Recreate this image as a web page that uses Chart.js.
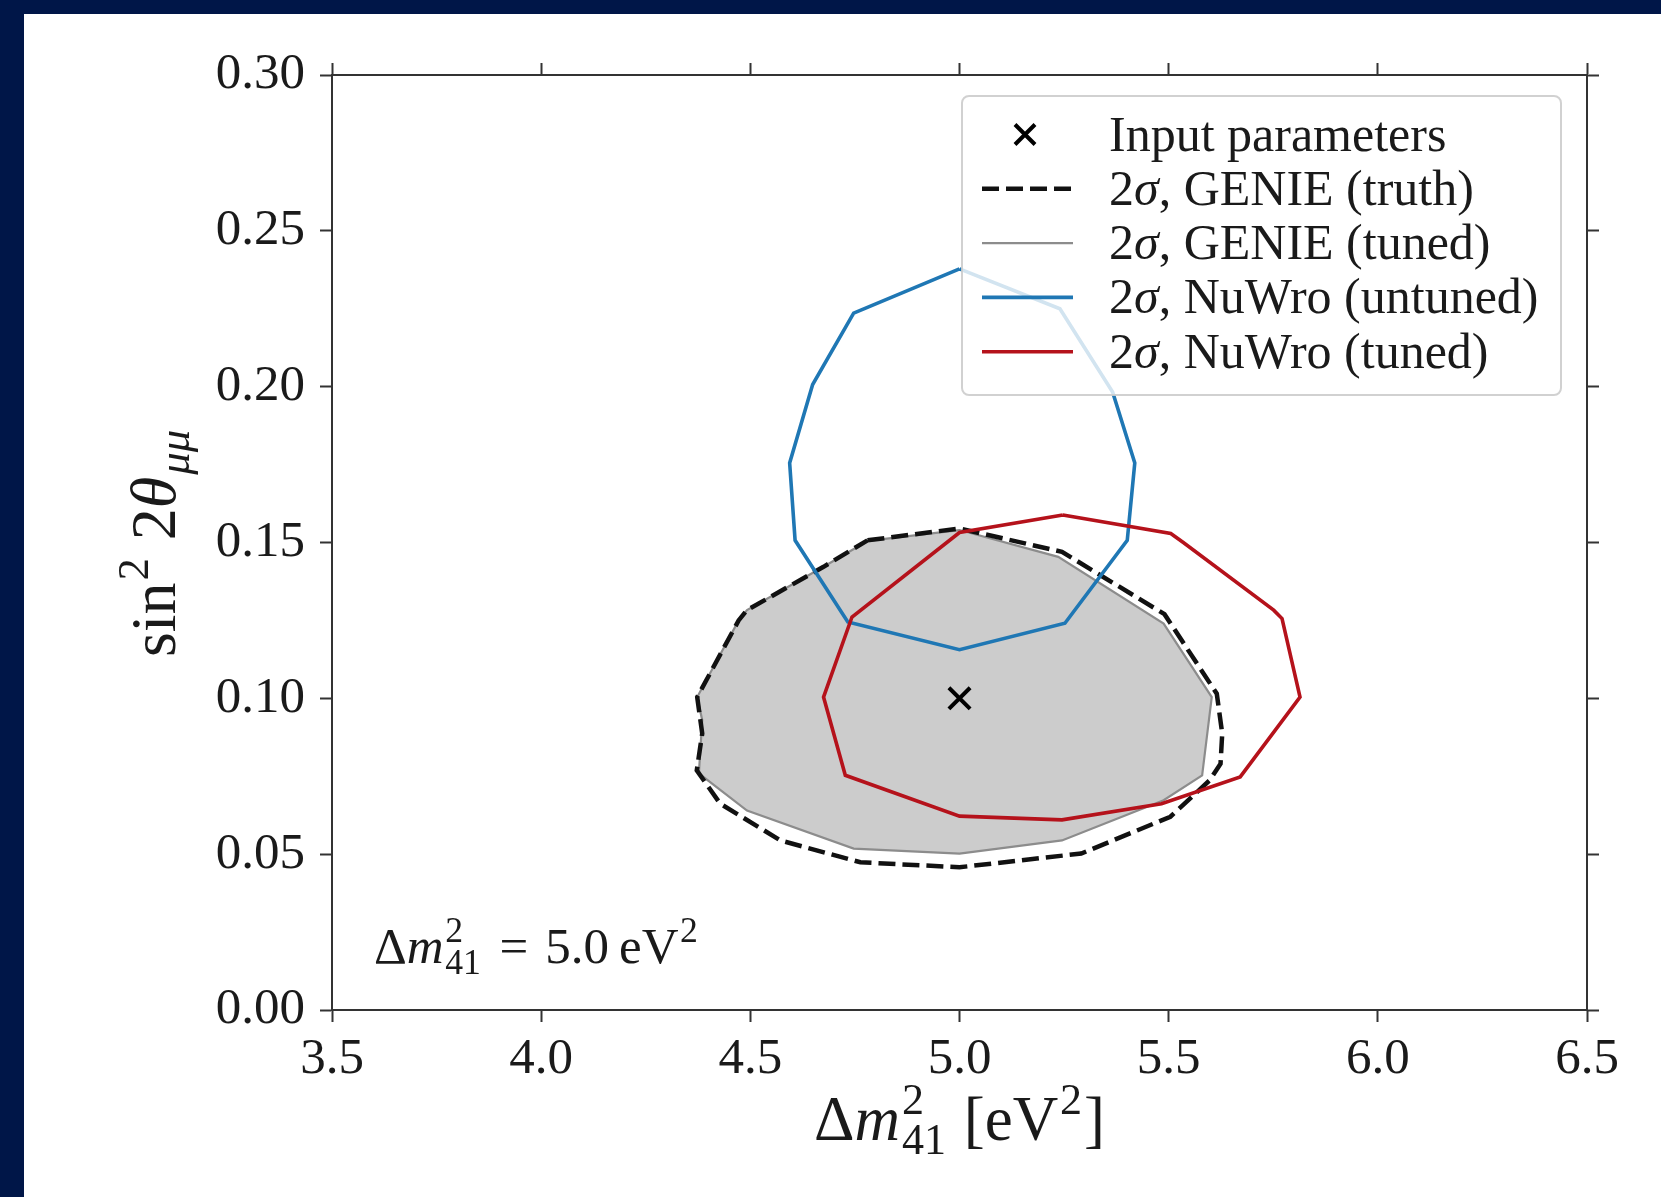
<!DOCTYPE html>
<html>
<head>
<meta charset="utf-8">
<title>Sterile oscillation contours</title>
<script src="https://cdn.jsdelivr.net/npm/chart.js@4.4.1/dist/chart.umd.min.js"></script>
<style>
    html, body { margin: 0; padding: 0; background: #001648; overflow: hidden; }
    .panel { position: absolute; left: 24px; top: 14px; right: 0; bottom: 0; background: #ffffff; }
    canvas { display: block; }
</style>
</head>
<body>
<div class="panel"><canvas id="contourChart" width="1637" height="1183"></canvas></div>
<script>
// axis ticks
const xTicks = [3.5, 4.0, 4.5, 5.0, 5.5, 6.0, 6.5];
const yTicks = [0.0, 0.05, 0.1, 0.15, 0.2, 0.25, 0.3];

// injected point
const inputX = [5.0];
const inputY = [0.1];

// 2 sigma contours (closed polygons)
const genieTruthX = [4.78, 5.0, 5.245, 5.49, 5.615, 5.628, 5.624, 5.598, 5.504, 5.291, 5.0, 4.763, 4.572, 4.428, 4.372, 4.385, 4.373, 4.472, 4.492, 4.675, 4.78];
const genieTruthY = [0.1507, 0.1545, 0.147, 0.127, 0.1015, 0.0887, 0.079, 0.0737, 0.062, 0.0502, 0.0458, 0.0474, 0.0544, 0.0662, 0.0769, 0.0887, 0.1004, 0.125, 0.1283, 0.1422, 0.1507];

const genieTunedX = [4.78, 5.0, 5.236, 5.488, 5.603, 5.58, 5.488, 5.245, 5.0, 4.747, 4.492, 4.377, 4.385, 4.373, 4.472, 4.492, 4.675, 4.78];
const genieTunedY = [0.1505, 0.154, 0.1454, 0.124, 0.1004, 0.0753, 0.0673, 0.0544, 0.0502, 0.0518, 0.064, 0.0759, 0.093, 0.1004, 0.125, 0.1283, 0.1422, 0.1505];

const nuwroUntunedX = [5.0, 5.24, 5.366, 5.419, 5.401, 5.252, 5.0, 4.733, 4.607, 4.594, 4.649, 4.747, 5.0];
const nuwroUntunedY = [0.2378, 0.225, 0.1983, 0.1755, 0.1507, 0.1241, 0.1156, 0.1245, 0.1507, 0.1755, 0.2007, 0.2236, 0.2378];

const nuwroTunedX = [5.247, 5.505, 5.535, 5.751, 5.771, 5.814, 5.671, 5.483, 5.245, 5.0, 4.727, 4.675, 4.743, 5.0, 5.247];
const nuwroTunedY = [0.1588, 0.1529, 0.15, 0.1283, 0.1256, 0.1004, 0.0748, 0.0662, 0.061, 0.0622, 0.0753, 0.1004, 0.1261, 0.1532, 0.1588];

const legendLabels = [
    "Input parameters",
    "2σ, GENIE (truth)",
    "2σ, GENIE (tuned)",
    "2σ, NuWro (untuned)",
    "2σ, NuWro (tuned)",
];

const FONT = "\"Liberation Serif\", \"Times New Roman\", serif";

const toPoints = (xs, ys) => xs.map((x, i) => ({ x: x, y: ys[i] }));

// draws a small run of math-like text: {t, it} normal text, {sup, sub} stacked scripts
const drawMath = (ctx, runs, x, y, size, align) => {
    const small = size * 0.7;
    const setFont = (s, it) => {
        ctx.font = (it ? "italic " : "") + s + "px " + FONT;
    };
    const widthOf = (r) => {
        if (r.t !== undefined) {
            setFont(size, r.it);
            return ctx.measureText(r.t).width;
        }
        setFont(small, r.it);
        const a = r.sup ? ctx.measureText(r.sup).width : 0;
        const b = r.sub ? ctx.measureText(r.sub).width : 0;
        return Math.max(a, b) + size * 0.06;
    };
    const total = runs.reduce((acc, r) => acc + widthOf(r), 0);
    let cx = align === "center" ? x - total / 2 : x;
    ctx.textAlign = "left";
    ctx.textBaseline = "alphabetic";
    runs.forEach((r) => {
        const w = widthOf(r);
        if (r.t !== undefined) {
            setFont(size, r.it);
            ctx.fillText(r.t, cx, y);
        } else {
            setFont(small, r.it);
            if (r.sup) ctx.fillText(r.sup, cx + size * 0.03, y - size * 0.42);
            if (r.sub) ctx.fillText(r.sub, cx + size * 0.03, y + size * 0.22);
        }
        cx += w;
    });
};

// greek letters in italics, like mathtext
const labelRuns = (str) => {
    const runs = [];
    for (const ch of str) {
        const it = /[\u03b1-\u03c9]/.test(ch);
        const last = runs[runs.length - 1];
        if (last && last.it === it) last.t += ch;
        else runs.push({ t: ch, it: it });
    }
    return runs;
};

const xTitleRuns = [{ t: "Δ" }, { t: "m", it: true }, { sup: "2", sub: "41" }, { t: " [eV" }, { sup: "2" }, { t: "]" }];
const yTitleRuns = [{ t: "sin" }, { sup: "2" }, { t: " 2" }, { t: "θ", it: true }, { sub: "μμ", it: true }];
const noteRuns = [{ t: "Δ" }, { t: "m", it: true }, { sup: "2", sub: "41" }, { t: "\u2004=\u20045.0\u2009eV" }, { sup: "2" }];

const textPlugin = {
    id: "mathText",
    afterDatasetsDraw: (chart) => {
        const ctx = chart.ctx;
        const area = chart.chartArea;
        ctx.save();
        ctx.fillStyle = "#1a1a1a";

        // annotation inside the axes
        drawMath(ctx, noteRuns, area.left + 42, area.bottom - 47, 51, "left");

        // legend box
        const lw = 599;
        const lh = 299;
        const lx = area.right - 26 - lw;
        const ly = area.top + 21;
        ctx.beginPath();
        ctx.roundRect(lx, ly, lw, lh, 7);
        ctx.fillStyle = "rgba(255, 255, 255, 0.8)";
        ctx.fill();
        ctx.strokeStyle = "rgba(204, 204, 204, 0.9)";
        ctx.lineWidth = 2;
        ctx.stroke();

        chart.data.datasets.forEach((ds, i) => {
            const rowY = ly + 38.5 + i * 54.3;
            ctx.save();
            if (ds.showLine === false) {
                const cx = lx + 63;
                const h = 10;
                ctx.strokeStyle = ds.borderColor;
                ctx.lineWidth = 4;
                ctx.beginPath();
                ctx.moveTo(cx - h, rowY - h);
                ctx.lineTo(cx + h, rowY + h);
                ctx.moveTo(cx - h, rowY + h);
                ctx.lineTo(cx + h, rowY - h);
                ctx.stroke();
            } else {
                ctx.strokeStyle = ds.borderColor;
                ctx.lineWidth = ds.borderWidth;
                ctx.setLineDash(ds.borderDash || []);
                ctx.beginPath();
                ctx.moveTo(lx + 20, rowY);
                ctx.lineTo(lx + 111, rowY);
                ctx.stroke();
            }
            ctx.restore();
            ctx.fillStyle = "#1a1a1a";
            drawMath(ctx, labelRuns(ds.label), lx + 147, rowY + 16, 50, "left");
        });

        // axis titles
        ctx.fillStyle = "#1a1a1a";
        drawMath(ctx, xTitleRuns, (area.left + area.right) / 2, 1126, 63, "center");
        ctx.save();
        ctx.translate(151, (area.top + area.bottom) / 2);
        ctx.rotate(-Math.PI / 2);
        drawMath(ctx, yTitleRuns, 0, 0, 64, "center");
        ctx.restore();
        ctx.restore();
    },
};

const axisColor = "#333333";
const tickFont = { family: FONT, size: 51 };

const edgeGrid = {
    display: true,
    drawOnChartArea: false,
    drawTicks: true,
    tickLength: 12,
    tickWidth: 2,
    tickColor: axisColor,
};
const edgeBorder = { display: true, color: axisColor, width: 2 };

const ctx = document.getElementById("contourChart").getContext("2d");

new Chart(ctx, {
    type: "scatter",
    data: {
        datasets: [
            {
                label: legendLabels[0],
                data: toPoints(inputX, inputY),
                showLine: false,
                pointStyle: "crossRot",
                pointRadius: 15,
                pointBorderWidth: 4,
                borderColor: "#000000",
                backgroundColor: "#000000",
                order: 0,
            },
            {
                label: legendLabels[1],
                data: toPoints(genieTruthX, genieTruthY),
                showLine: true,
                borderColor: "#111111",
                borderWidth: 4.5,
                borderDash: [17, 7],
                pointRadius: 0,
                fill: false,
                order: 3,
            },
            {
                label: legendLabels[2],
                data: toPoints(genieTunedX, genieTunedY),
                showLine: true,
                borderColor: "#8c8c8c",
                borderWidth: 2.2,
                backgroundColor: "#cccccc",
                pointRadius: 0,
                fill: "shape",
                order: 4,
            },
            {
                label: legendLabels[3],
                data: toPoints(nuwroUntunedX, nuwroUntunedY),
                showLine: true,
                borderColor: "#1f77b4",
                borderWidth: 3.6,
                pointRadius: 0,
                fill: false,
                order: 2,
            },
            {
                label: legendLabels[4],
                data: toPoints(nuwroTunedX, nuwroTunedY),
                showLine: true,
                borderColor: "#b5121b",
                borderWidth: 3.6,
                pointRadius: 0,
                fill: false,
                order: 1,
            },
        ],
    },
    options: {
        responsive: false,
        animation: false,
        layout: { padding: { left: 0, top: 49, right: 62, bottom: 0 } },
        plugins: {
            legend: { display: false },
            tooltip: { enabled: false },
        },
        scales: {
            x: {
                type: "linear",
                position: "bottom",
                min: 3.5,
                max: 6.5,
                afterBuildTicks: (scale) => {
                    scale.ticks = xTicks.map((v) => ({ value: v }));
                },
                afterFit: (scale) => {
                    scale.height = 187;
                },
                grid: edgeGrid,
                border: edgeBorder,
                ticks: {
                    color: "#1a1a1a",
                    font: tickFont,
                    padding: 7,
                    maxRotation: 0,
                    callback: (v) => Number(v).toFixed(1),
                },
            },
            x2: {
                type: "linear",
                position: "top",
                min: 3.5,
                max: 6.5,
                afterBuildTicks: (scale) => {
                    scale.ticks = xTicks.map((v) => ({ value: v }));
                },
                afterFit: (scale) => {
                    scale.height = 12;
                },
                grid: edgeGrid,
                border: edgeBorder,
                ticks: { display: false },
            },
            y: {
                type: "linear",
                position: "left",
                min: 0,
                max: 0.3,
                afterBuildTicks: (scale) => {
                    scale.ticks = yTicks.map((v) => ({ value: v }));
                },
                afterFit: (scale) => {
                    scale.width = 308;
                },
                grid: edgeGrid,
                border: edgeBorder,
                ticks: {
                    color: "#1a1a1a",
                    font: tickFont,
                    padding: 15,
                    callback: (v) => Number(v).toFixed(2),
                },
            },
            y2: {
                type: "linear",
                position: "right",
                min: 0,
                max: 0.3,
                afterBuildTicks: (scale) => {
                    scale.ticks = yTicks.map((v) => ({ value: v }));
                },
                afterFit: (scale) => {
                    scale.width = 12;
                },
                grid: edgeGrid,
                border: edgeBorder,
                ticks: { display: false },
            },
        },
    },
    plugins: [textPlugin],
});
</script>
</body>
</html>
